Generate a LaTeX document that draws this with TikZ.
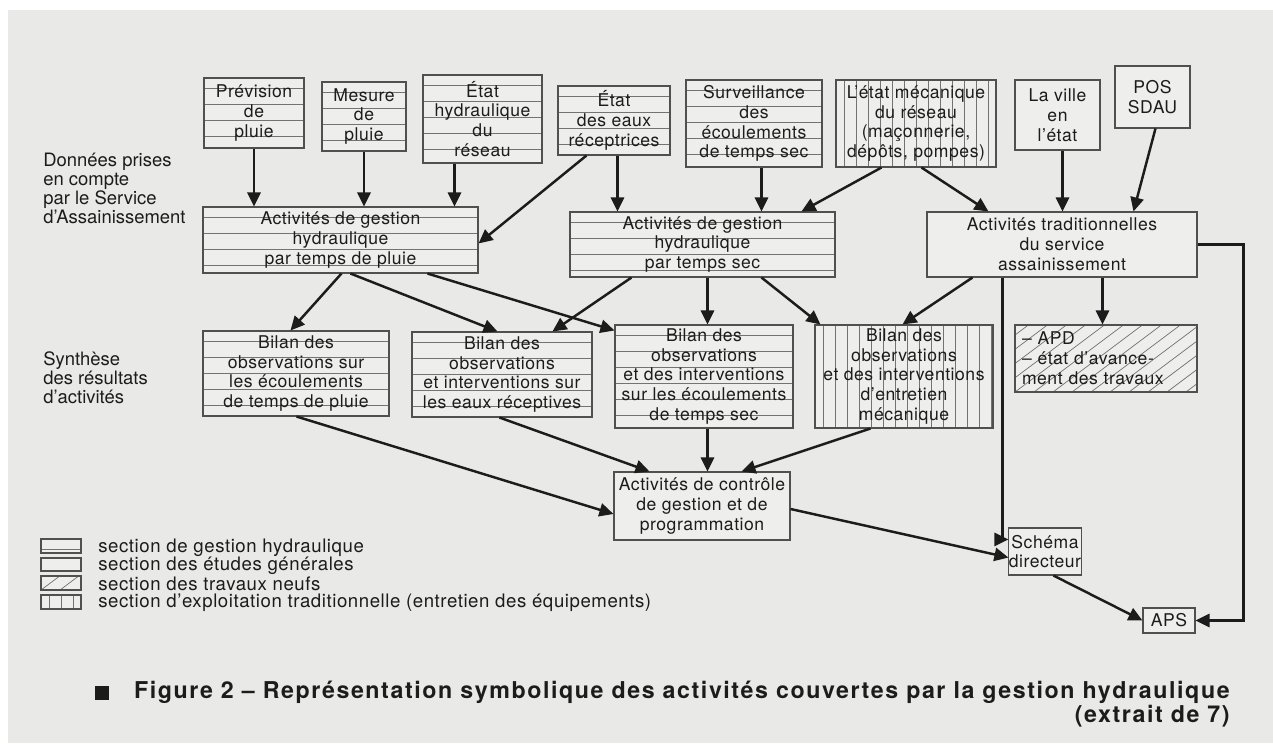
\documentclass[tikz,border=0pt]{standalone}
\usepackage{fontspec}
\setmainfont{TeX Gyre Heros}
\usetikzlibrary{arrows.meta,calc}
\definecolor{paper}{RGB}{233,233,231}
\definecolor{boxfill}{RGB}{238,238,236}
\definecolor{ink}{RGB}{28,28,28}
\definecolor{edgec}{RGB}{80,80,80}
\definecolor{hatchc}{RGB}{115,115,115}
\newcommand\bx[7]{\node[#6, minimum width={(#4-#2)*0.02cm}, minimum height={(#5-#3)*0.02cm}] (#1) at ({(#2+#4)/2},{(#3+#5)/2}) {#7};}
\begin{document}
\begin{tikzpicture}[x=0.02cm,y=-0.02cm,
  font=\fontsize{10}{11.3}\selectfont\addfontfeature{LetterSpace=3}, text=ink,
  box/.style={draw=edgec, line width=0.6pt, fill=boxfill, inner sep=0pt, align=center},
  hl/.style={box, path picture={\foreach \k in {0,...,10} \draw[hatchc, line width=0.4pt] ([yshift={-0.2cm-\k*0.32cm}]path picture bounding box.north west) -- ++(12cm,0);}},
  vl/.style={box, path picture={\foreach \k in {0,...,18} \draw[hatchc, line width=0.4pt] ([xshift={0.16cm+\k*0.24cm}]path picture bounding box.north west) -- ++(0,-6cm);}},
  dg/.style={box, path picture={\foreach \k in {-12,...,20} \draw[hatchc, line width=0.4pt] ([xshift={\k*0.38cm}]path picture bounding box.south west) -- ++(4cm,3cm);}},
  arr/.style={-{Triangle[length=8pt,width=7.5pt]}, line width=1.4pt, draw=ink},
  lab/.style={anchor=north west, align=left, inner sep=0pt, font=\fontsize{10.5}{10.8}\selectfont},
  leg/.style={anchor=west, inner sep=0pt, font=\fontsize{10.6}{12}\selectfont\addfontfeature{LetterSpace=3}},
  captext/.style={anchor=base east, inner sep=0pt, font=\bfseries\fontsize{13.2}{15}\selectfont\addfontfeature{LetterSpace=6.8}},
]
\useasboundingbox (0,0) rectangle (1273,743);
\fill[white] (0,0) rectangle (1273,743);
\fill[paper] (8,10) rectangle (1273,743);

% top row
\bx{prev}{204}{78}{304}{148}{hl}{Prévision\\de\\pluie}
\bx{mes}{322}{82}{406}{151}{hl}{Mesure\\de\\pluie}
\bx{eh}{423}{75}{542}{163}{hl}{État\\hydraulique\\du\\réseau}
\bx{eaux}{558}{86}{670}{155}{hl}{État\\des eaux\\réceptrices}
\bx{surv}{686}{80}{822}{167}{hl}{Surveillance\\des\\écoulements\\de temps sec}
\bx{meca}{836}{80}{996}{167}{vl}{L’état mécanique\\du réseau\\(maçonnerie,\\dépôts, pompes)}
\bx{ville}{1015}{80}{1100}{150}{box}{La ville\\en\\l’état}
\bx{pos}{1115}{66}{1190}{128}{box}{POS\\SDAU}

% activities
\bx{gp}{203}{207}{478}{273}{hl}{Activités de gestion\\hydraulique\\par temps de pluie}
\bx{gs}{570}{212}{835}{277}{hl}{Activités de gestion\\hydraulique\\par temps sec}
\bx{trad}{927}{212}{1197}{277}{box}{Activités traditionnelles\\du service\\assainissement}

% synthesis
\bx{bp}{203}{331}{389}{416}{hl}{Bilan des\\observations sur\\les écoulements\\de temps de pluie}
\bx{be}{412}{332}{592}{417}{hl}{Bilan des\\observations\\et interventions sur\\les eaux réceptives}
\bx{bs}{615}{325}{793}{428}{hl}{Bilan des\\observations\\et des interventions\\sur les écoulements\\de temps sec}
\bx{bm}{815}{325}{993}{428}{vl}{Bilan des\\observations\\et des interventions\\d’entretien\\mécanique}
\node[dg, minimum width={182*0.02cm}, minimum height={67*0.02cm}, align=left, text width={168*0.02cm}] (apd) at (1106,358.5) {– APD\\– état d’avance-\\ment des travaux};

% bottom
\bx{ctl}{614}{472}{790}{540}{box}{Activités de contrôle\\de gestion et de\\programmation}
\bx{sch}{1015}{528}{1075}{575}{box}{Schéma\\directeur}
\bx{aps}{1143}{608}{1195}{633}{box}{APS}

% left labels
\node[lab] (lab1) at (43,153) {Données prises\\en compte\\par le Service\\d’Assainissement};
\node[lab] (lab2) at (43,351) {Synthèse\\des résultats\\d’activités};

% arrows from data
\draw[arr] (prev.south) -- (prev.south |- gp.north);
\draw[arr] (mes.south) -- (mes.south |- gp.north);
\draw[arr] ($(eh.south west)+(32,0)$) -- ($(gp.north west)+(252,0)$);
\draw[arr] ($(eaux.south west)+(29,0)$) -- ($(gp.north east)+(0,37)$);
\draw[arr] ($(eaux.south west)+(60,0)$) -- ($(gs.north west)+(48,0)$);
\draw[arr] ($(surv.south west)+(76,0)$) -- ($(gs.north west)+(192,0)$);
\draw[arr] ($(meca.south west)+(46,0)$) -- ($(gs.north west)+(232,0)$);
\draw[arr] ($(meca.south west)+(86,0)$) -- ($(trad.north west)+(62,0)$);
\draw[arr] ($(ville.south west)+(48,0)$) -- ($(trad.north west)+(136,0)$);
\draw[arr] ($(pos.south west)+(41,0)$) -- ($(trad.north west)+(207,0)$);

% arrows from activities
\draw[arr] ($(gp.south west)+(139,0)$) -- ($(bp.north west)+(88,0)$);
\draw[arr] ($(gp.south west)+(148,0)$) -- ($(be.north west)+(86,0)$);
\draw[arr] ($(gp.south west)+(225,0)$) -- ($(bs.north west)+(0,6)$);
\draw[arr] ($(gs.south west)+(62,0)$) -- ($(be.north west)+(141,0)$);
\draw[arr] ($(gs.south west)+(138,0)$) -- ($(bs.north west)+(93,0)$);
\draw[arr] ($(gs.south west)+(192,0)$) -- ($(bm.north west)+(6,0)$);
\draw[arr] ($(trad.south west)+(46,0)$) -- ($(bm.north west)+(88,0)$);
\draw[arr] ($(trad.south west)+(176,0)$) -- ($(apd.north west)+(88,0)$);
\draw[arr] (trad.east) -- ++(46,0) |- (aps.east);
\draw[arr] ($(trad.south west)+(76,0)$) |- ($(sch.north west)+(0,12)$);

% arrows to control
\draw[arr] ($(bp.south west)+(94,0)$) -- ($(ctl.west)+(0,8)$);
\draw[arr] ($(be.south west)+(88,0)$) -- ($(ctl.north west)+(36,0)$);
\draw[arr] ($(bs.south west)+(93,0)$) -- ($(ctl.north west)+(94,0)$);
\draw[arr] ($(bm.south west)+(56,0)$) -- ($(ctl.north west)+(128,0)$);
\draw[arr] ($(ctl.east)+(0,3)$) -- ($(sch.south west)+(0,-18)$);
\draw[arr] ($(sch.south west)+(45,0)$) -- (aps.west);

% legend
\bx{k1}{41}{539}{81}{553}{hl}{}
\bx{k2}{41}{558}{81}{571}{box}{}
\bx{k3}{41}{576}{81}{590}{dg}{}
\bx{k4}{41}{595}{81}{609}{vl}{}
\node[leg] (t1) at (98,548) {section de gestion hydraulique};
\node[leg] (t2) at (98,566) {section des études générales};
\node[leg] (t3) at (98,584) {section des travaux neufs};
\node[leg] (t4) at (98,603) {section d’exploitation traditionnelle (entretien des équipements)};

% caption
\node[fill=ink, minimum size={14*0.02cm}, inner sep=0pt] (sq) at (102,693) {};
\node[captext] (cap1) at (1230,698) {Figure 2 – Représentation symbolique des activités couvertes par la gestion hydraulique};
\node[captext] (cap2) at (1230,722) {(extrait de 7)};
\end{tikzpicture}
\end{document}
